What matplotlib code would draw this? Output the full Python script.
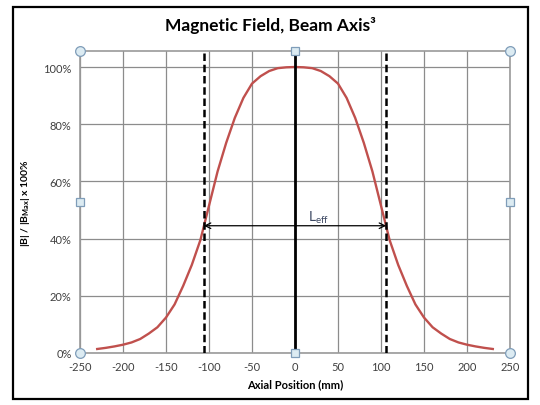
import matplotlib.pyplot as plt
from matplotlib.patches import Rectangle

plt.rcParams['font.family'] = ['Lato', 'DejaVu Sans']
plt.rcParams['axes.unicode_minus'] = False
plt.rcParams['mathtext.fontset'] = 'custom'
plt.rcParams['mathtext.rm'] = 'Lato'
plt.rcParams['mathtext.bf'] = 'Lato:bold'

# field profile along the beam axis (mm, % of max)
pos_mm = [-230, -220, -210, -200, -190, -180, -170, -160, -150, -140, -130, -120,
          -110, -100, -90, -80, -70, -60, -50, -40, -30, -20, -10, 0,
          10, 20, 30, 40, 50, 60, 70, 80, 90, 100, 110, 120,
          130, 140, 150, 160, 170, 180, 190, 200, 210, 220, 230]
field_pct = [1.4, 1.8, 2.3, 2.9, 3.7, 4.9, 6.8, 9.0, 12.4, 17.0, 23.5, 30.8,
             39.5, 51.5, 63.5, 73.5, 82.2, 89.2, 94.2, 96.8, 98.6, 99.6, 99.9, 100.0,
             99.9, 99.6, 98.6, 96.8, 94.2, 89.2, 82.2, 73.5, 63.5, 51.5, 39.5, 30.8,
             23.5, 17.0, 12.4, 9.0, 6.8, 4.9, 3.7, 2.9, 2.3, 1.8, 1.4]
leff_edge = 106
leff_level = 44.5
x_ticks = [-250, -200, -150, -100, -50, 0, 50, 100, 150, 200, 250]
y_ticks = [0, 20, 40, 60, 80, 100]

fig = plt.figure(figsize=(5.4, 4.06), dpi=100)
ax = fig.add_axes([80/540, 52/406, 430/540, 302/406])

# outer chart border
fig.patches.append(Rectangle((13/540, 6/406), 515/540, 392/406, transform=fig.transFigure,
                             fill=False, edgecolor='black', linewidth=1.6))

ax.set_xlim(-250, 250)
ax.set_ylim(0, 105.6)
ax.set_xticks(x_ticks)
ax.set_yticks(y_ticks)
ax.set_yticklabels(['%d%%' % v for v in y_ticks])
ax.tick_params(length=0, labelsize=8, colors='#404040', pad=6)
ax.grid(True, color='#8c8c8c', linewidth=0.9)
ax.set_axisbelow(True)
for s in ax.spines.values():
    s.set_color('#9a9a9a')
    s.set_linewidth(1.2)

ax.plot(pos_mm, field_pct, color='#C0504D', linewidth=1.7, zorder=3)

# centre line and L_eff markers
ax.axvline(0, color='black', linewidth=2, zorder=4)
ax.axvline(-leff_edge, color='black', linewidth=1.8, linestyle=(0, (3, 1.5)), zorder=4)
ax.axvline(leff_edge, color='black', linewidth=1.8, linestyle=(0, (3, 1.5)), zorder=4)
ax.annotate('', xy=(-leff_edge, leff_level), xytext=(leff_edge, leff_level),
            arrowprops=dict(arrowstyle='<->', color='black', linewidth=0.9,
                            shrinkA=0, shrinkB=0), zorder=5)
ax.text(27, 47.5, r'L$_{\rm eff}$', fontsize=10, color='#3c4862',
        ha='center', va='center')

# selection handles of the plot-area shape
hx = [0, 1, 0, 1]
hy = [0, 0, 1, 1]
ax.plot(hx, hy, 'o', transform=ax.transAxes, ms=7, mfc='#dcebf2', mec='#7f9db9',
        mew=0.9, clip_on=False, zorder=6)
sx = [0.5, 0.5, 0, 1]
sy = [0, 1, 0.5, 0.5]
ax.plot(sx, sy, 's', transform=ax.transAxes, ms=6, mfc='#dcebf2', mec='#7f9db9',
        mew=0.9, clip_on=False, zorder=6)

fig.text(0.5, 381/406, 'Magnetic Field, Beam Axis³', ha='center', va='center',
         fontsize=12.5, fontweight='bold')
ax.set_xlabel('Axial Position (mm)', fontsize=8, fontweight='bold', labelpad=4)
ax.set_ylabel(r'|B| / |B$_{\mathbf{Max}}$| x 100%', fontsize=7.5, fontweight='bold',
              labelpad=8)

fig.savefig('out.png', dpi=100)
